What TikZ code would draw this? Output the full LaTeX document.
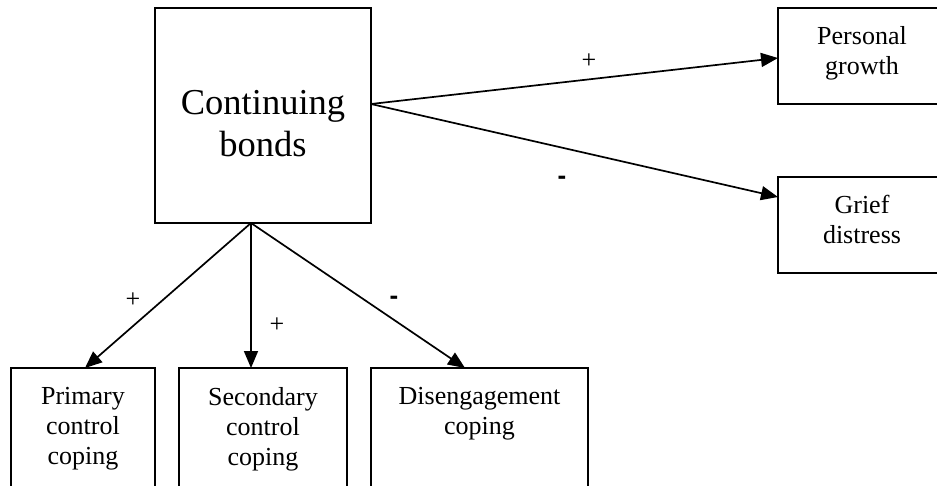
\documentclass[tikz,border=0pt]{standalone}
\usepackage{fontspec}
\setmainfont{Liberation Serif}
\usetikzlibrary{arrows.meta}
\begin{document}
\begin{tikzpicture}[x=1pt,y=-1pt,
  box/.style={draw, line width=2pt, inner sep=0pt, outer sep=0pt, anchor=north west},
  lbl/.style={font=\fontsize{26}{30}\selectfont, align=center, anchor=north, inner sep=0pt},
  biglbl/.style={font=\fontsize{36.5}{42}\selectfont, align=center, inner sep=0pt},
  conn/.style={line width=1.7pt, -{Triangle[length=17pt,width=14pt]}},
  sign/.style={font=\fontsize{26}{30}\selectfont, inner sep=0pt},
  minus/.style={font=\fontspec{Liberation Sans}\bfseries\fontsize{26}{30}\selectfont, inner sep=0pt}]
\useasboundingbox (0,0) rectangle (937,485);
\clip (0,0) rectangle (937,485);

% boxes
\node[box, minimum width=216pt, minimum height=215pt] (cb) at (155,8) {};
\node[box, minimum width=168pt, minimum height=96pt] (pg) at (778,8) {};
\node[box, minimum width=168pt, minimum height=96pt] (gd) at (778,177) {};
\node[box, minimum width=144pt, minimum height=140pt] (pc) at (11,368) {};
\node[box, minimum width=168pt, minimum height=140pt] (sc) at (179,368) {};
\node[box, minimum width=217pt, minimum height=140pt] (dc) at (371,368) {};

% texts
\node[biglbl] (cbt) at (263,124) {Continuing\\bonds};
\node[lbl] (pgt) at ([yshift=-18pt]pg.north) {Personal\\growth};
\node[lbl] (gdt) at ([yshift=-18pt]gd.north) {Grief\\distress};
\node[lbl] (pct) at ([yshift=-19pt]pc.north) {Primary\\control\\coping};
\node[lbl] (sct) at ([yshift=-19pt]sc.north) {Secondary\\control\\coping};
\node[lbl] (dct) at ([yshift=-19pt]dc.north) {Disengagement\\coping};

% connectors
\coordinate (cbr) at ([yshift=11.5pt]cb.east);
\coordinate (cbb) at ([xshift=-12pt]cb.south);
\draw[conn] (cbr) -- ([yshift=-2pt]pg.west);
\draw[conn] (cbr) -- ([yshift=28pt]gd.west);
\draw[conn] (cbb) -- ([xshift=2pt]pc.north);
\draw[conn] (cbb) -- ([xshift=-12pt]sc.north);
\draw[conn] (cbb) -- ([xshift=-14.5pt]dc.north);

% signs
\node[sign] (s1) at (589,61) {+};
\node[minus] (s2) at (562,180) {-};
\node[sign] (s3) at (133,300) {+};
\node[sign] (s4) at (277,325) {+};
\node[minus] (s5) at (394,300) {-};
\end{tikzpicture}
\end{document}
